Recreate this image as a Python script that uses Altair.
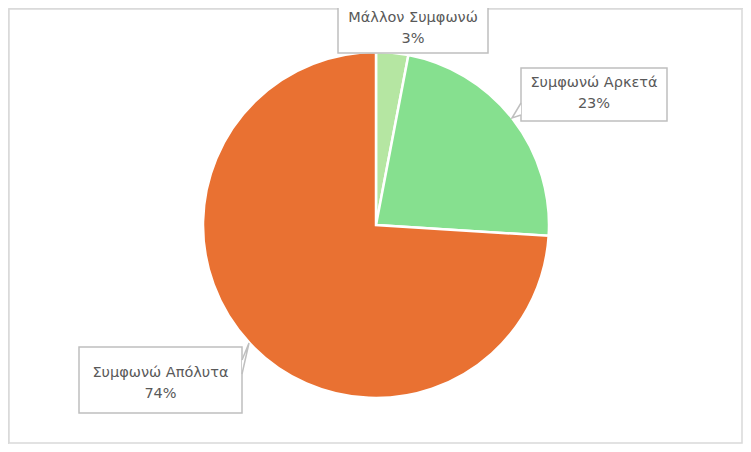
import altair as alt
import pandas as pd

categories = ["Μάλλον Συμφωνώ", "Συμφωνώ Αρκετά", "Συμφωνώ Απόλυτα"]
values = [3, 23, 74]
colors = ["#b5e6a2", "#86e08f", "#e97132"]

# callout layout (page pixels, chart origin is 8px inside page)
box_x1 = [338, 521, 79]
box_x2 = [488, 667, 242]
box_y1 = [1, 68, 347]
box_y2 = [53, 121, 413]
line1_y = [18, 83, 373]
line2_y = [39, 104, 394]
# pointer wedges: tip, then two points on box edge
ptr = [
    None,
    [(512, 118), (521, 103), (521, 115)],
    [(249, 343), (242, 360), (242, 374)],
]

W, H = 735, 436
OFF = 8
cx, cy, R = 376 - OFF, 225 - OFF, 173

pie_df = pd.DataFrame({"cat": categories, "val": values, "order": [0, 1, 2]})

xs = alt.Scale(domain=[0, W], range=[0, W], nice=False, zero=False)
ys = alt.Scale(domain=[0, H], range=[0, H], nice=False, zero=False)

frame = alt.Chart(pd.DataFrame({"k": [0]})).mark_rect(
    fill="white", stroke="#d9d9d9", strokeWidth=1.5
).encode(
    x=alt.value(1), x2=alt.value(W - 1), y=alt.value(1), y2=alt.value(H - 1)
)

pie = alt.Chart(pie_df).mark_arc(outerRadius=R, stroke="white", strokeWidth=2.5).encode(
    theta=alt.Theta("val:Q", stack=True),
    order=alt.Order("order:Q"),
    color=alt.Color("cat:N", scale=alt.Scale(domain=categories, range=colors), legend=None),
    x=alt.value(cx),
    y=alt.value(cy),
)

box_df = pd.DataFrame({
    "x1": [v - OFF for v in box_x1], "x2": [v - OFF for v in box_x2],
    "y1": [v - OFF for v in box_y1], "y2": [v - OFF for v in box_y2],
    "xc": [(a + b) / 2 - OFF for a, b in zip(box_x1, box_x2)],
    "l1": categories,
    "l2": [f"{v}%" for v in values],
    "ly1": [v - OFF for v in line1_y],
    "ly2": [v - OFF for v in line2_y],
})

boxes = alt.Chart(box_df).mark_rect(fill="white", stroke="#bfbfbf", strokeWidth=1.5).encode(
    x=alt.X("x1:Q", scale=xs, axis=None), x2="x2:Q",
    y=alt.Y("y1:Q", scale=ys, axis=None), y2="y2:Q",
)

rows = []
for i, p in enumerate(ptr):
    if p is None:
        continue
    tip, a, b = p
    rows.append({"g": i, "o": 0, "x": a[0] - OFF, "y": a[1] - OFF})
    rows.append({"g": i, "o": 1, "x": tip[0] - OFF, "y": tip[1] - OFF})
    rows.append({"g": i, "o": 2, "x": b[0] - OFF, "y": b[1] - OFF})
ptr_df = pd.DataFrame(rows)

pointers = alt.Chart(ptr_df).mark_line(color="#bfbfbf", strokeWidth=1.5, fill="white", interpolate="linear").encode(
    x=alt.X("x:Q", scale=xs, axis=None),
    y=alt.Y("y:Q", scale=ys, axis=None),
    detail="g:N",
    order="o:Q",
)

font = "DejaVu Sans"
t1 = alt.Chart(box_df).mark_text(font=font, fontSize=14.5, color="#595959", baseline="middle").encode(
    x=alt.X("xc:Q", scale=xs, axis=None), y=alt.Y("ly1:Q", scale=ys, axis=None), text="l1:N"
)
t2 = alt.Chart(box_df).mark_text(font=font, fontSize=14.5, color="#595959", baseline="middle").encode(
    x=alt.X("xc:Q", scale=xs, axis=None), y=alt.Y("ly2:Q", scale=ys, axis=None), text="l2:N"
)

chart = alt.layer(frame, pie, boxes, t1, t2, pointers).properties(
    width=W, height=H, autosize=alt.AutoSizeParams(type="none"), padding=0
).configure_view(stroke=None).configure(background="white")

chart.save("out.html", embed_options={"renderer": "svg", "actions": False})
